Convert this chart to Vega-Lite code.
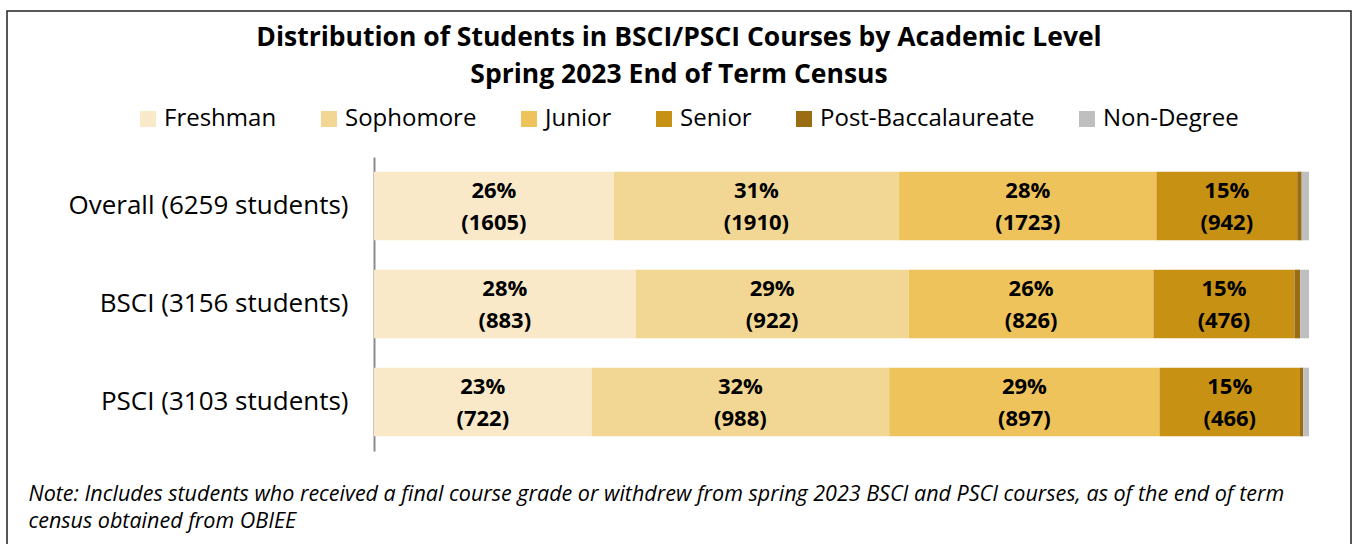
{
  "$schema": "https://vega.github.io/schema/vega-lite/v6.json",
  "autosize": "none",
  "width": 1344,
  "height": 540,
  "padding": {"left": 7, "top": 11, "right": 5, "bottom": 0},
  "background": "white",
  "config": {
    "font": "Open Sans",
    "view": {"stroke": "#222222", "strokeWidth": 1.5}
  },
  "title": {
    "text": ["Distribution of Students in BSCI/PSCI Courses by Academic Level", "Spring 2023 End of Term Census"],
    "anchor": "middle",
    "frame": "group",
    "font": "Open Sans",
    "fontSize": 26.5,
    "fontWeight": "bold",
    "color": "#000000",
    "lineHeight": 37,
    "offset": -77
  },
  "data": {
    "values": [
      {"group": "Overall (6259 students)", "level": "Freshman", "order": 1, "count": 1605},
      {"group": "Overall (6259 students)", "level": "Sophomore", "order": 2, "count": 1910},
      {"group": "Overall (6259 students)", "level": "Junior", "order": 3, "count": 1723},
      {"group": "Overall (6259 students)", "level": "Senior", "order": 4, "count": 942},
      {"group": "Overall (6259 students)", "level": "Post-Baccalaureate", "order": 5, "count": 30},
      {"group": "Overall (6259 students)", "level": "Non-Degree", "order": 6, "count": 49},
      {"group": "BSCI (3156 students)", "level": "Freshman", "order": 1, "count": 883},
      {"group": "BSCI (3156 students)", "level": "Sophomore", "order": 2, "count": 922},
      {"group": "BSCI (3156 students)", "level": "Junior", "order": 3, "count": 826},
      {"group": "BSCI (3156 students)", "level": "Senior", "order": 4, "count": 476},
      {"group": "BSCI (3156 students)", "level": "Post-Baccalaureate", "order": 5, "count": 19},
      {"group": "BSCI (3156 students)", "level": "Non-Degree", "order": 6, "count": 30},
      {"group": "PSCI (3103 students)", "level": "Freshman", "order": 1, "count": 722},
      {"group": "PSCI (3103 students)", "level": "Sophomore", "order": 2, "count": 988},
      {"group": "PSCI (3103 students)", "level": "Junior", "order": 3, "count": 897},
      {"group": "PSCI (3103 students)", "level": "Senior", "order": 4, "count": 466},
      {"group": "PSCI (3103 students)", "level": "Post-Baccalaureate", "order": 5, "count": 11},
      {"group": "PSCI (3103 students)", "level": "Non-Degree", "order": 6, "count": 19}
    ]
  },
  "transform": [
    {"stack": "count", "groupby": ["group"], "sort": [{"field": "order", "order": "ascending"}], "offset": "normalize", "as": ["x0", "x1"]},
    {"joinaggregate": [{"op": "sum", "field": "count", "as": "total"}], "groupby": ["group"]},
    {"calculate": "(datum.x0 + datum.x1) / 2", "as": "mid"},
    {"calculate": "[format(datum.count / datum.total, '.0%'), '(' + datum.count + ')']", "as": "label"}
  ],
  "encoding": {
    "y": {
      "field": "group",
      "type": "nominal",
      "sort": ["Overall (6259 students)", "BSCI (3156 students)", "PSCI (3103 students)"],
      "scale": {"range": [146, 440], "paddingInner": 0.3, "paddingOuter": 0.15},
      "axis": {
        "title": null,
        "offset": -367,
        "domainColor": "#8c8c8c",
        "domainWidth": 2,
        "ticks": false,
        "labelFont": "Open Sans",
        "labelFontSize": 26,
        "labelColor": "#000000",
        "labelPadding": 26,
        "labelLimit": 400
      }
    }
  },
  "layer": [
    {
      "mark": {"type": "bar"},
      "encoding": {
        "x": {
          "field": "x0",
          "type": "quantitative",
          "scale": {"domain": [0, 1], "range": [367, 1302], "nice": false, "zero": false},
          "axis": {
            "domain": false, "ticks": false, "labels": false, "grid": false,
            "title": ["Note: Includes students who received a final course grade or withdrew from spring 2023 BSCI and PSCI courses, as of the end of term", "census obtained from OBIEE"],
            "titleFont": "Open Sans",
            "titleFontSize": 21.5,
            "titleFontStyle": "italic",
            "titleFontWeight": "normal",
            "titleColor": "#000000",
            "titleAnchor": "start",
            "titleAlign": "left",
            "titleBaseline": "alphabetic",
            "titleLineHeight": 27,
            "titleLimit": 1400,
            "titleX": 21,
            "titleY": -51
          }
        },
        "x2": {"field": "x1"},
        "color": {
          "field": "level",
          "type": "nominal",
          "scale": {
            "domain": ["Freshman", "Sophomore", "Junior", "Senior", "Post-Baccalaureate", "Non-Degree"],
            "range": ["#F9E9C9", "#F2D794", "#EEC35B", "#C79113", "#9B6D12", "#BFBFBF"]
          },
          "legend": {
            "title": null,
            "orient": "none",
            "legendX": 129,
            "legendY": 96,
            "direction": "horizontal",
            "symbolType": "square",
            "symbolSize": 256,
            "symbolStrokeWidth": 0,
            "symbolOpacity": 1,
            "labelFont": "Open Sans",
            "labelFontSize": 24,
            "labelColor": "#000000",
            "labelOffset": 4,
            "labelLimit": 400,
            "columnPadding": 40
          }
        }
      }
    },
    {
      "transform": [{"filter": "datum.order <= 4"}],
      "mark": {"type": "text", "font": "Open Sans", "fontSize": 22, "fontWeight": "bold", "color": "#000000", "lineHeight": 32, "baseline": "middle", "align": "center", "dy": -15},
      "encoding": {
        "x": {"field": "mid", "type": "quantitative"},
        "text": {"field": "label"}
      }
    }
  ]
}
